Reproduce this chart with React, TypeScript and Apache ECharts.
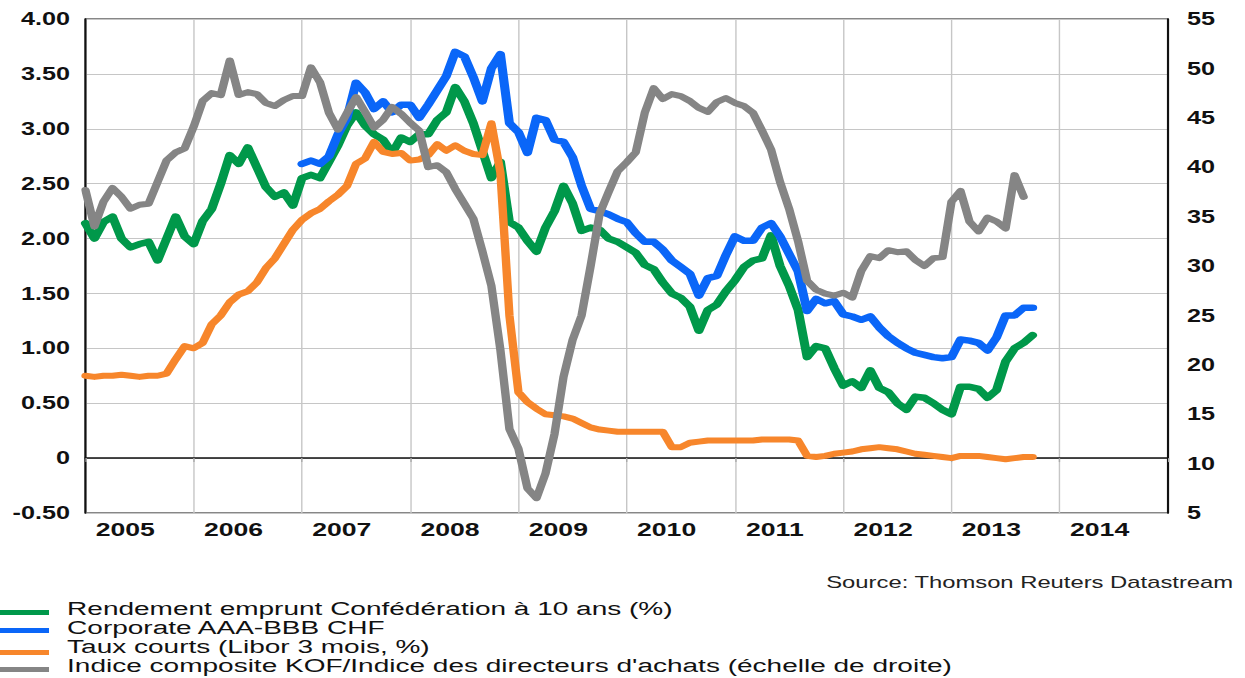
import React, { useEffect, useRef } from 'react';
import * as echarts from 'echarts';

// ---- layout helpers (the reference is a horizontally stretched picture) ----
const NATIVE_W = 889;
const NATIVE_H = 678;
const SCALE_X = 1245 / NATIVE_W;
const FONT = 'Liberation Sans, Arial, Helvetica, sans-serif';

// ---- data ----
const startYear = 2005;
const endYear = 2015;
const yearLabels = ['2005', '2006', '2007', '2008', '2009', '2010', '2011', '2012', '2013', '2014'];

const seriesNames = [
  'Rendement emprunt Confédération à 10 ans (%)',
  'Corporate AAA-BBB CHF',
  'Taux courts (Libor 3 mois, %)',
  "Indice composite KOF/Indice des directeurs d'achats (échelle de droite)",
];
const seriesColors = ['#00984a', '#0a66f8', '#f7862b', '#858585'];

// monthly values from January 2005
const bond10y = [
  2.14, 2.00, 2.15, 2.20, 2.00, 1.92, 1.95, 1.97, 1.80, 2.00,
  2.20, 2.02, 1.95, 2.16, 2.27, 2.50, 2.76, 2.68, 2.83, 2.65,
  2.47, 2.38, 2.42, 2.30, 2.55, 2.58, 2.55, 2.70, 2.85, 3.03,
  3.15, 3.03, 2.95, 2.90, 2.78, 2.92, 2.88, 2.95, 2.95, 3.08,
  3.15, 3.38, 3.25, 3.05, 2.80, 2.55, 2.70, 2.15, 2.10, 1.98,
  1.88, 2.10, 2.25, 2.48, 2.32, 2.07, 2.10, 2.08, 2.00, 1.97,
  1.92, 1.87, 1.76, 1.72, 1.60, 1.50, 1.46, 1.38, 1.16, 1.35,
  1.40, 1.52, 1.62, 1.74, 1.80, 1.82, 2.03, 1.75, 1.57, 1.35,
  0.92, 1.02, 1.00, 0.82, 0.66, 0.70, 0.64, 0.80, 0.64, 0.60,
  0.50, 0.44, 0.56, 0.55, 0.50, 0.44, 0.40, 0.65, 0.65, 0.63,
  0.55, 0.62, 0.88, 1.00, 1.05, 1.12,
];

// monthly values from January 2007
const corporateStartMonth = 24;
const corporate = [
  2.68, 2.71, 2.68, 2.75, 2.95, 3.10, 3.42, 3.33, 3.18, 3.25,
  3.15, 3.22, 3.22, 3.10, 3.22, 3.35, 3.48, 3.70, 3.66, 3.47,
  3.25, 3.55, 3.68, 3.05, 2.97, 2.78, 3.10, 3.08, 2.90, 2.88,
  2.74, 2.48, 2.27, 2.25, 2.22, 2.18, 2.15, 2.05, 1.97, 1.97,
  1.90, 1.80, 1.74, 1.68, 1.48, 1.64, 1.66, 1.85, 2.02, 1.98,
  1.98, 2.10, 2.14, 2.02, 1.86, 1.70, 1.34, 1.45, 1.41, 1.43,
  1.31, 1.29, 1.26, 1.29, 1.19, 1.11, 1.05, 1.00, 0.96, 0.94,
  0.92, 0.91, 0.92, 1.08, 1.07, 1.05, 0.98, 1.10, 1.30, 1.30,
  1.37, 1.37,
];

// monthly values from January 2005
const libor3m = [
  0.75, 0.74, 0.75, 0.75, 0.76, 0.75, 0.74, 0.75, 0.75, 0.77,
  0.90, 1.02, 1.00, 1.05, 1.22, 1.30, 1.42, 1.49, 1.52, 1.60,
  1.73, 1.82, 1.95, 2.08, 2.17, 2.23, 2.27, 2.34, 2.40, 2.48,
  2.68, 2.73, 2.88, 2.79, 2.77, 2.78, 2.71, 2.72, 2.76, 2.86,
  2.80, 2.85, 2.80, 2.77, 2.76, 3.05, 2.60, 1.30, 0.60, 0.51,
  0.45, 0.40, 0.39, 0.38, 0.36, 0.32, 0.28, 0.26, 0.25, 0.24,
  0.24, 0.24, 0.24, 0.24, 0.24, 0.10, 0.10, 0.14, 0.15, 0.16,
  0.16, 0.16, 0.16, 0.16, 0.16, 0.17, 0.17, 0.17, 0.17, 0.16,
  0.02, 0.01, 0.02, 0.04, 0.05, 0.06, 0.08, 0.09, 0.10, 0.09,
  0.08, 0.06, 0.04, 0.03, 0.02, 0.01, 0.00, 0.02, 0.02, 0.02,
  0.01, 0.00, -0.01, 0.00, 0.01, 0.01,
];

// monthly values from January 2005 (right axis)
const kofPmi = [
  37.7, 34.0, 36.5, 37.9, 37.0, 35.8, 36.2, 36.3, 38.5, 40.7,
  41.5, 41.9, 44.1, 46.7, 47.5, 47.3, 50.8, 47.3, 47.6, 47.4,
  46.5, 46.2, 46.8, 47.2, 47.2, 50.1, 48.6, 45.5, 43.8, 45.5,
  47.1, 45.6, 44.0, 44.8, 46.1, 45.4, 44.5, 43.7, 40.0, 40.2,
  39.5, 37.8, 36.3, 34.8, 31.5, 28.0, 21.5, 13.5, 11.5, 7.5,
  6.5, 9.0, 13.0, 18.8, 22.5, 25.0, 30.0, 35.3, 37.5, 39.6,
  40.5, 41.5, 45.5, 48.0, 46.9, 47.4, 47.2, 46.7, 46.0, 45.6,
  46.6, 47.0, 46.5, 46.2, 45.5, 43.7, 41.8, 38.5, 35.8, 32.5,
  28.5, 27.6, 27.2, 27.0, 27.3, 26.8, 29.5, 31.0, 30.8, 31.6,
  31.4, 31.5, 30.6, 30.0, 30.8, 30.9, 36.5, 37.6, 34.5, 33.5,
  34.9, 34.5, 33.8, 39.2, 37.0,
];

const leftMin = -0.5;
const leftMax = 4;
const leftStep = 0.5;
const rightMin = 5;
const rightMax = 55;
const rightStep = 5;

const sourceText = 'Source: Thomson Reuters Datastream';

function toPairs(values: number[], offset = 0) {
  return values.map((v, i) => [startYear + (i + offset) / 12, v]);
}

export default function App() {
  const ref = useRef<HTMLDivElement>(null);

  useEffect(() => {
    if (!ref.current) return;
    const chart = echarts.init(ref.current, undefined, {
      renderer: 'svg',
      width: NATIVE_W,
      height: NATIVE_H,
    });

    const legendMid = [608.5, 627.5, 646.5, 665.5];
    const swatchMid = [612.5, 630.5, 652.5, 669.5];
    const legendFont = 16.5;
    const legendStretch = 20 / legendFont;

    const graphic: any[] = [];
    seriesNames.forEach((name, i) => {
      graphic.push({
        type: 'rect',
        shape: { x: 0, y: swatchMid[i] - 2.5, width: 35, height: 5 },
        style: { fill: seriesColors[i] },
        silent: true,
      });
      graphic.push({
        type: 'text',
        x: 47.9,
        y: legendMid[i],
        scaleX: legendStretch,
        scaleY: 1.08,
        style: {
          text: name,
          fontSize: legendFont,
          fontFamily: FONT,
          fill: '#111',
          align: 'left',
          verticalAlign: 'middle',
        },
        silent: true,
      });
    });
    graphic.push({
      type: 'text',
      x: 880.5,
      y: 582,
      style: {
        text: sourceText,
        fontSize: 17,
        fontFamily: FONT,
        fill: '#222',
        align: 'right',
        verticalAlign: 'middle',
      },
      silent: true,
    });

    const lineSeries = (idx: number, data: any[], yAxisIndex: number, width: number) => ({
      name: seriesNames[idx],
      type: 'line',
      data,
      yAxisIndex,
      showSymbol: false,
      symbol: 'none',
      smooth: false,
      lineStyle: { color: seriesColors[idx], width, join: 'round', cap: 'round' },
      itemStyle: { color: seriesColors[idx] },
      z: 2 + idx,
    });

    chart.setOption({
      animation: false,
      backgroundColor: '#ffffff',
      textStyle: { fontFamily: FONT },
      grid: {
        left: 61,
        right: 55,
        top: 19,
        bottom: 165,
        show: true,
        borderColor: '#111',
        borderWidth: 1,
        backgroundColor: 'transparent',
      },
      xAxis: {
        type: 'value',
        min: startYear,
        max: endYear,
        interval: 1,
        axisLine: { show: true, lineStyle: { color: '#111', width: 1.5 } },
        axisTick: { show: true, length: 4, lineStyle: { color: '#aaa', width: 1 } },
        splitLine: { show: true, lineStyle: { color: '#c6c6c6', width: 1 } },
        axisLabel: {
          show: true,
          margin: 7,
          fontSize: 19,
          fontWeight: 'bold',
          fontFamily: FONT,
          color: '#111',
          padding: [0, 0, 0, 57],
          formatter: (v: number) => {
            const idx = Math.round(v) - startYear;
            return idx >= 0 && idx < yearLabels.length ? yearLabels[idx] : '';
          },
        },
      },
      yAxis: [
        {
          type: 'value',
          position: 'left',
          min: leftMin,
          max: leftMax,
          interval: leftStep,
          axisLine: { show: true, lineStyle: { color: '#111', width: 1.5 } },
          axisTick: { show: false },
          splitLine: { show: true, lineStyle: { color: '#c6c6c6', width: 1 } },
          axisLabel: {
            margin: 11,
            fontSize: 18,
            fontWeight: 'bold',
            fontFamily: FONT,
            color: '#111',
            formatter: (v: number) => (Math.abs(v) < 1e-9 ? '0' : v.toFixed(2)),
          },
        },
        {
          type: 'value',
          position: 'right',
          min: rightMin,
          max: rightMax,
          interval: rightStep,
          axisLine: { show: true, lineStyle: { color: '#111', width: 1.5 } },
          axisTick: { show: false },
          splitLine: { show: false },
          axisLabel: {
            margin: 13.5,
            fontSize: 18,
            fontWeight: 'bold',
            fontFamily: FONT,
            color: '#111',
          },
        },
      ],
      graphic,
      series: [
        lineSeries(0, toPairs(bond10y), 0, 6.5),
        lineSeries(1, toPairs(corporate, corporateStartMonth), 0, 6.5),
        lineSeries(2, toPairs(libor3m), 0, 6),
        lineSeries(3, toPairs(kofPmi), 1, 6),
      ],
    });

    return () => chart.dispose();
  }, []);

  return (
    <div
      style={{
        position: 'absolute',
        left: 0,
        top: 0,
        width: NATIVE_W,
        height: NATIVE_H,
        transform: `scale(${SCALE_X}, 1)`,
        transformOrigin: '0 0',
        background: '#fff',
      }}
    >
      <div ref={ref} style={{ width: NATIVE_W, height: NATIVE_H }} />
    </div>
  );
}
